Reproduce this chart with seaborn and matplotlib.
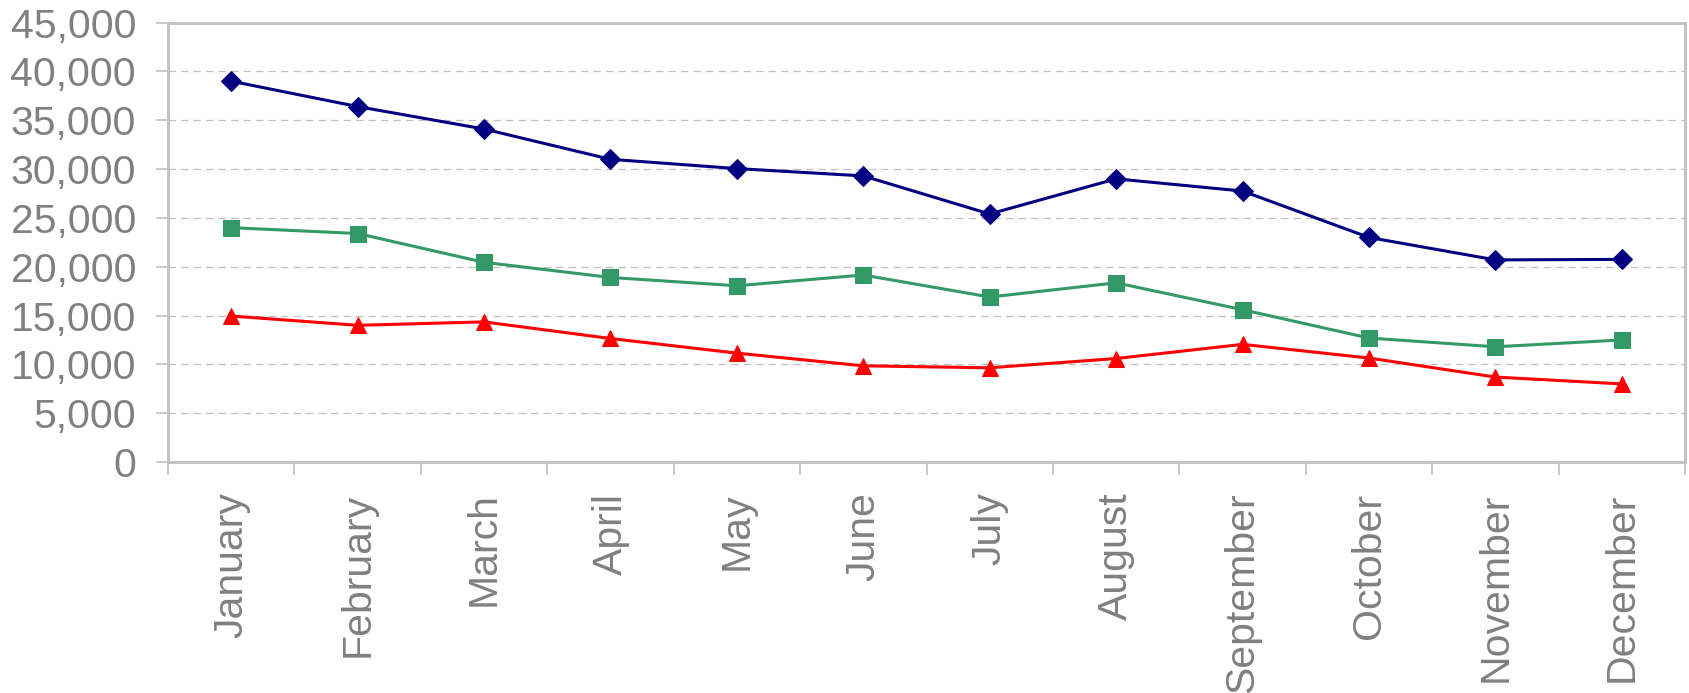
import pandas as pd
import numpy as np
import matplotlib
matplotlib.use('Agg')
import matplotlib.pyplot as plt
import seaborn as sns

# Datos
meses = ['January', 'February', 'March', 'April', 'May', 'June', 'July',
         'August', 'September', 'October', 'November', 'December']
serie_azul = [39000, 36400, 34100, 31000, 30050, 29300, 25400, 29000, 27750, 23000, 20700, 20750]
serie_verde = [24000, 23400, 20450, 18900, 18050, 19150, 16900, 18350, 15600, 12700, 11800, 12500]
serie_roja = [14950, 14000, 14350, 12650, 11150, 9850, 9650, 10600, 12050, 10650, 8700, 8000]
yticks = [0, 5000, 10000, 15000, 20000, 25000, 30000, 35000, 40000, 45000]

sns.set_style('white')
plt.rcParams['font.family'] = ['Liberation Sans', 'DejaVu Sans']

gris = '#808080'
gris_claro = '#c0c0c0'

fig = plt.figure(figsize=(16.89, 6.93), dpi=100)
ax = fig.add_axes([0.0995, 0.3333, 0.8981, 0.6341])

x = np.arange(len(meses))
estilos = [
    (serie_azul, '#000080', 'D', 10),
    (serie_verde, '#339966', 's', 11),
    (serie_roja, '#ff0000', '^', 12),
]
for valores, color, marcador, tam in estilos:
    sns.lineplot(x=x, y=valores, ax=ax, color=color, marker=marcador,
                 markersize=tam, markeredgecolor=color, linewidth=2.2,
                 zorder=3)

ax.set_xlim(-0.5, 11.5)
ax.set_ylim(0, 45000)
ax.set_yticks(yticks)
ax.set_yticklabels([f'{v:,}' for v in yticks])

# Marcas de los ejes en los límites entre categorías (estilo Excel)
ax.set_xticks(np.arange(-0.5, 12, 1))
ax.set_xticklabels([])
ax.set_xticks(x, minor=True)
ax.set_xticklabels(meses, minor=True, rotation=90, va='top', ha='center')
ax.tick_params(axis='x', which='major', direction='out', length=9,
               width=1.2, color=gris_claro, bottom=True)
ax.tick_params(axis='x', which='minor', length=0, pad=22,
               labelsize=29.5, labelcolor=gris)
ax.tick_params(axis='y', direction='out', length=9, width=1.2,
               color=gris_claro, left=True, pad=14, labelsize=29.5,
               labelcolor=gris)

ax.grid(axis='y', color=gris_claro, linestyle=(0, (6, 4)), linewidth=0.9)
ax.set_axisbelow(True)
for lado in ax.spines.values():
    lado.set_color(gris_claro)
    lado.set_linewidth(2)

ax.set_xlabel('')
ax.set_ylabel('')

plt.savefig('out.png', dpi=100)
